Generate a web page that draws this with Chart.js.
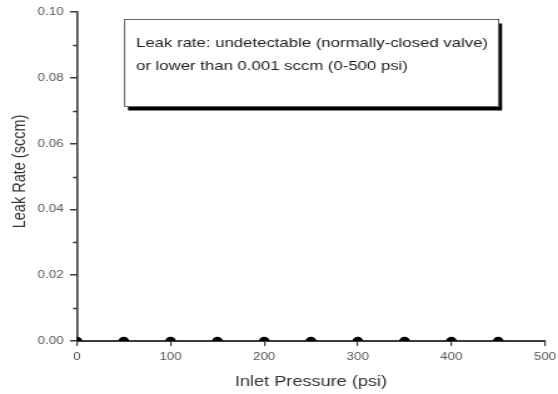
<!DOCTYPE html>
<html>
<head>
<meta charset="utf-8">
<script src="https://cdn.jsdelivr.net/npm/chart.js@4/dist/chart.umd.min.js"></script>
<style>
  html, body { margin: 0; padding: 0; background: #fff; overflow: hidden; }
  #graficoVazamento { display: block; }
</style>
</head>
<body>
<!-- a figura original está esticada na horizontal (~1.25x): 446 px desenhados, 558 px mostrados -->
<canvas id="graficoVazamento" width="446" height="394" style="width:558px;height:394px"></canvas>
<script>
// pressões de entrada (psi) e vazamento medido (sccm)
const pressoes = [0, 50, 100, 150, 200, 250, 300, 350, 400, 450];
const vazamento = [0, 0, 0, 0, 0, 0, 0, 0, 0, 0];
const ticksMenoresY = [0.01, 0.03, 0.05, 0.07, 0.09];
const tituloY = 'Leak Rate (sccm)';
const tituloX = 'Inlet Pressure (psi)';
const notaLinhas = [
    'Leak rate: undetectable (normally-closed valve)',
    'or lower than 0.001 sccm (0-500 psi)'
];

const corEixo = '#3a3a3a';
const corTexto = '#555';
const fonte = '"Liberation Sans", Arial, sans-serif';

// ticks menores, título do eixo y e caixa de nota com sombra
const extras = {
    id: 'extras',
    afterDraw(chart) {
        const ctx = chart.ctx;
        const y = chart.scales.y;
        const area = chart.chartArea;
        ctx.save();
        ctx.strokeStyle = corEixo;
        ctx.lineWidth = 1.5;
        ticksMenoresY.forEach(v => {
            const py = Math.round(y.getPixelForValue(v)) + 0.5;
            ctx.beginPath();
            ctx.moveTo(area.left - 3.2, py);
            ctx.lineTo(area.left, py);
            ctx.stroke();
        });

        // título y (um pouco acima do centro, como no original)
        ctx.save();
        ctx.translate(16.4, 171.5);
        ctx.rotate(-Math.PI / 2);
        ctx.fillStyle = '#333';
        ctx.font = '14.5px ' + fonte;
        ctx.textAlign = 'center';
        ctx.textBaseline = 'middle';
        ctx.fillText(tituloY, 0, 0);
        ctx.restore();

        // caixa da nota
        const bx = 99.1, by = 19, bw = 299, bh = 87;
        ctx.fillStyle = '#000';
        ctx.fillRect(bx + 3.2, by + 4.5, bw, bh);
        ctx.fillStyle = '#fff';
        ctx.fillRect(bx, by, bw, bh);
        ctx.strokeStyle = '#666';
        ctx.lineWidth = 1;
        ctx.strokeRect(bx + 0.5, by + 0.5, bw, bh);

        ctx.fillStyle = '#222';
        ctx.font = '13.4px ' + fonte;
        ctx.textBaseline = 'middle';
        ctx.fillText(notaLinhas[0], 108.7, 43);
        ctx.fillText(notaLinhas[1], 108.7, 66);
        ctx.restore();
    }
};

document.addEventListener('DOMContentLoaded', function() {
    const canvas = document.getElementById('graficoVazamento').getContext('2d');

    new Chart(canvas, {
        type: 'scatter',
        data: {
            datasets: [{
                label: 'Leak Rate',
                data: pressoes.map((p, i) => ({ x: p, y: vazamento[i] })),
                pointRadius: 4.2,
                pointBackgroundColor: '#000',
                pointBorderColor: '#000',
                pointBorderWidth: 0,
                showLine: false,
                clip: 0
            }]
        },
        options: {
            responsive: false,
            devicePixelRatio: 1,
            animation: false,
            layout: { padding: { left: 0, top: 12, right: 10.4, bottom: 0 } },
            plugins: { legend: { display: false }, tooltip: { enabled: false } },
            scales: {
                x: {
                    type: 'linear',
                    min: 0, max: 500,
                    afterFit: s => { s.height = 53; s.paddingLeft = 0; s.paddingRight = 0; },
                    ticks: { stepSize: 100, color: corTexto, padding: 5,
                        font: { family: fonte, size: 10.7 } },
                    grid: { drawOnChartArea: false, tickLength: 5, color: corEixo, lineWidth: 1.2 },
                    border: { color: corEixo, width: 2 },
                    title: { display: true, text: tituloX, color: '#333',
                        padding: { top: 4, bottom: 3 },
                        font: { family: fonte, size: 14.5 } }
                },
                y: {
                    min: 0, max: 0.1,
                    afterFit: s => { s.width = 61.5; s.paddingTop = 0; s.paddingBottom = 0; },
                    ticks: { stepSize: 0.02, color: corTexto, padding: 5,
                        callback: v => v.toFixed(2),
                        font: { family: fonte, size: 10.7 } },
                    grid: { drawOnChartArea: false, tickLength: 5.6, color: corEixo, lineWidth: 1.5 },
                    border: { color: corEixo, width: 1.6 }
                }
            }
        },
        plugins: [extras]
    });
});
</script>
</body>
</html>
